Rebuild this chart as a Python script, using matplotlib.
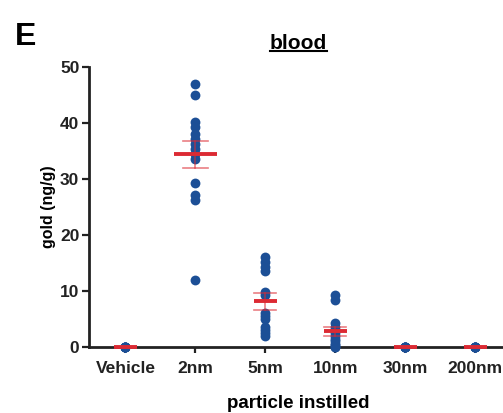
import matplotlib
matplotlib.use('Agg')
import matplotlib.pyplot as plt
import numpy as np

plt.rcParams['font.family'] = ['Liberation Sans', 'DejaVu Sans']
plt.rcParams['font.weight'] = 'bold'

groups = ['Vehicle', '2nm', '5nm', '10nm', '30nm', '200nm']
vehicle = [0, 0, 0, 0, 0, 0]
nm2 = [47, 45, 40.2, 39.3, 38.0, 37.2, 36.3, 35.4, 34.5, 33.6, 29.3, 27.2, 26.2, 12]
nm5 = [16, 15.2, 14.3, 13.6, 9.8, 9.2, 6, 5.5, 5, 3.5, 3, 2.4, 2.0]
nm10 = [9.2, 8.4, 4.3, 3.6, 3, 2.5, 2, 1.5, 1, 0.6, 0.3, 0, 0]
nm30 = [0, 0, 0, 0, 0, 0]
nm200 = [0, 0, 0, 0, 0, 0]
data = [vehicle, nm2, nm5, nm10, nm30, nm200]

dot_color = '#1c4f96'
mean_color = '#dc2a33'

fig = plt.figure(figsize=(5.03, 4.13), dpi=100)
ax = fig.add_axes([0.177, 0.160, 0.83, 0.678])

for i, vals in enumerate(data):
    vals = np.array(vals, dtype=float)
    ax.scatter(np.full(len(vals), i), vals, s=50, color=dot_color,
               zorder=3, clip_on=False, linewidths=0)
    m = vals.mean()
    sem = vals.std(ddof=1) / np.sqrt(len(vals))
    half = 0.31 if i == 1 else 0.165
    cap = 0.18 if i == 1 else 0.16
    ax.plot([i - half, i + half], [m, m], color=mean_color, lw=2.8,
            zorder=4, solid_capstyle='butt', clip_on=False)
    if sem > 0:
        ax.plot([i, i], [m - sem, m + sem], color=mean_color, lw=1.2,
                alpha=0.6, zorder=4)
        for y in (m - sem, m + sem):
            ax.plot([i - cap, i + cap], [y, y], color=mean_color, lw=1.2,
                    alpha=0.6, zorder=4)

ax.set_xlim(-0.52, 5.45)
ax.set_ylim(0, 50)
ax.set_yticks([0, 10, 20, 30, 40, 50])
ax.set_xticks(range(len(groups)))
ax.set_xticklabels(groups)

for side in ('top', 'right'):
    ax.spines[side].set_visible(False)
for side in ('left', 'bottom'):
    ax.spines[side].set_linewidth(2)
    ax.spines[side].set_color('#222222')

ax.tick_params(axis='y', length=5, width=1.6, colors='#222222',
               labelsize=12.5, pad=2)
ax.tick_params(axis='x', length=4, width=1.6, colors='#222222',
               labelsize=12.5, pad=6)
for lab in ax.get_xticklabels() + ax.get_yticklabels():
    lab.set_fontweight('bold')

ax.set_ylabel('gold (ng/g)', fontsize=11.5, fontweight='bold', labelpad=3)
ax.set_xlabel('particle instilled', fontsize=13.5, fontweight='bold',
              labelpad=14)

fig.text(0.03, 0.91, 'E', fontsize=23, fontweight='bold', va='center')
title = fig.text(0.593, 0.895, 'blood', fontsize=15, fontweight='bold',
                 ha='center', va='center')

# underline the title
fig.canvas.draw()
bb = title.get_window_extent().transformed(fig.transFigure.inverted())
fig.add_artist(plt.Line2D([bb.x0, bb.x1], [bb.y0 + 0.004, bb.y0 + 0.004],
                          transform=fig.transFigure, color='black', lw=1.5))

fig.savefig('out.png', dpi=100)
